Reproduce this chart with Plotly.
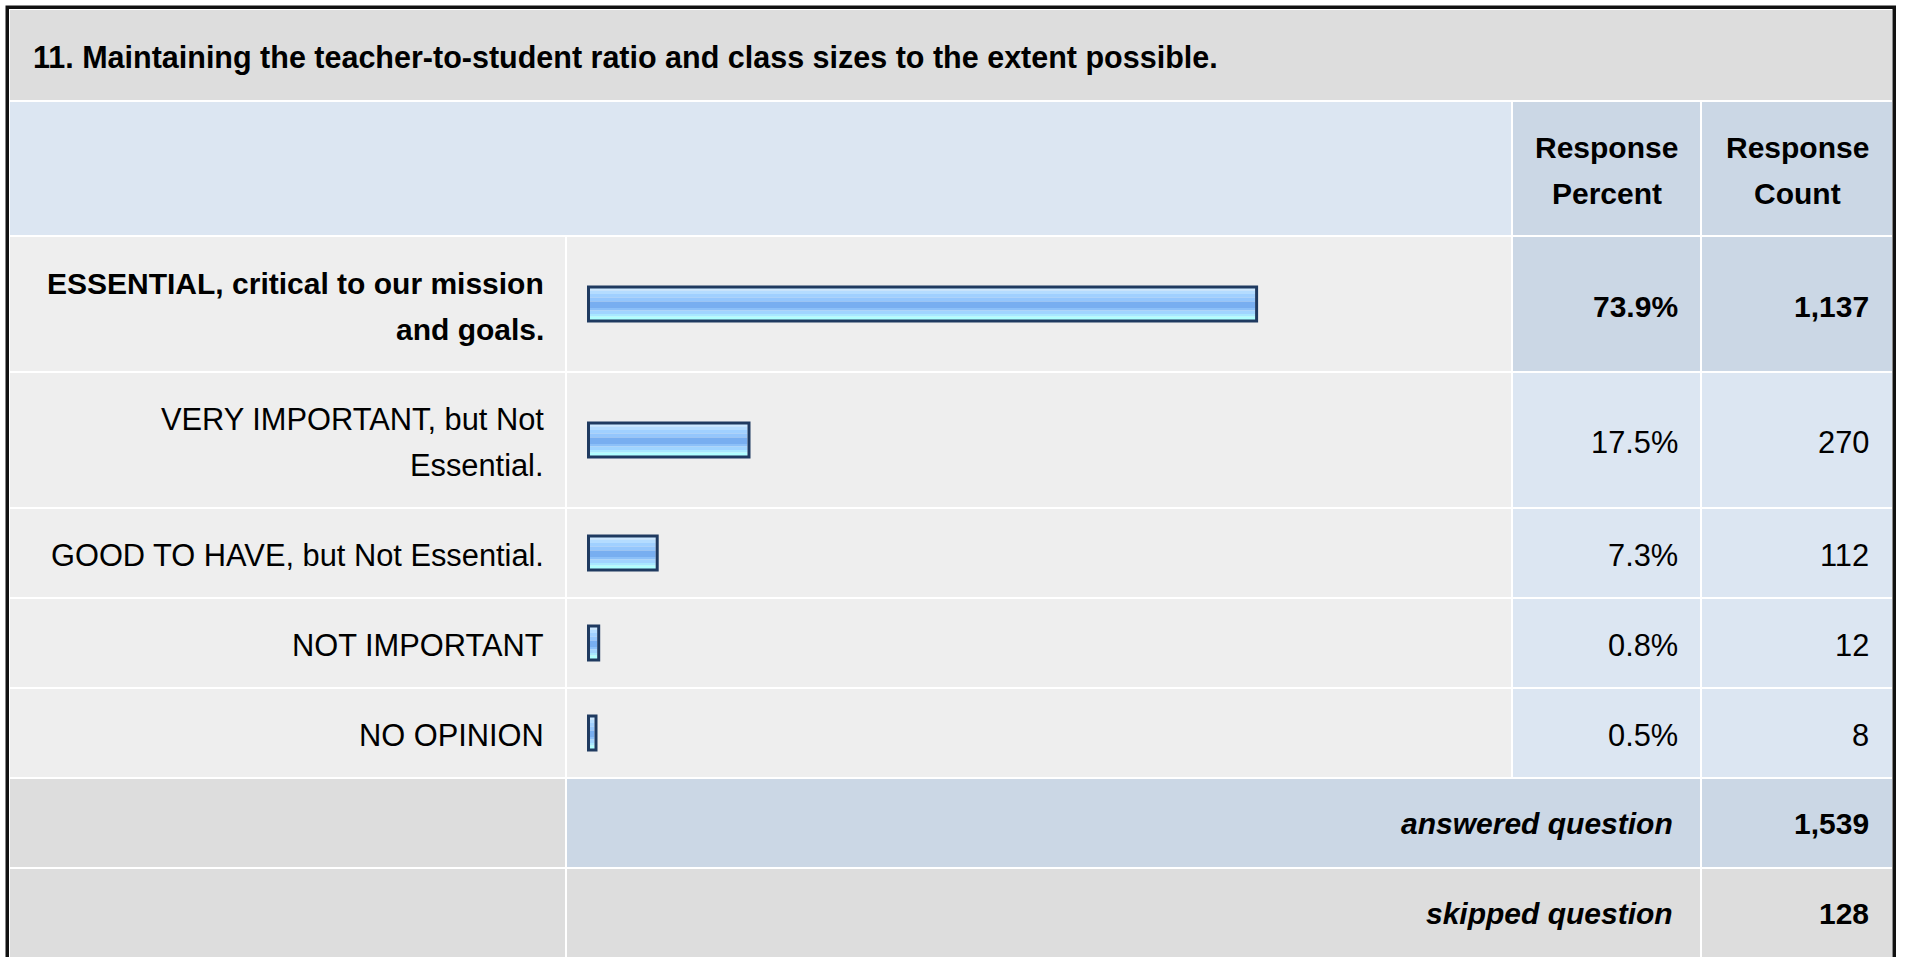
import plotly.graph_objects as go

# --- data -------------------------------------------------------------------
title = "11. Maintaining the teacher-to-student ratio and class sizes to the extent possible."
headers = ["Response<br>Percent", "Response<br>Count"]
choices = [
    "ESSENTIAL, critical to our mission<br>and goals.",
    "VERY IMPORTANT, but Not<br>Essential.",
    "GOOD TO HAVE, but Not Essential.",
    "NOT IMPORTANT",
    "NO OPINION",
]
percents = [73.9, 17.5, 7.3, 0.8, 0.5]
counts = [1137, 270, 112, 12, 8]
summary_labels = ["answered question", "skipped question"]
summary_counts = [1539, 128]

# --- layout constants -------------------------------------------------------
W, H = 1907, 957
FONT = "Liberation Sans, Arial, Helvetica, sans-serif"
FS_BOLD = 30
FS_REG = 30.8
FS_TITLE = 30.5
LINE = 46
TEXT_DY = 2          # caps sit a little below the cell middle

GREY = "#dddddd"
LIGHT = "#eeeeee"
BLUE = "#dce6f2"
BLUE_DARK = "#cbd7e5"
NAVY = "#1f3a60"

COLS = [9, 566, 1512, 1701, 1893]          # cell edges, left to right
TITLE_H, HEADER_H = 92, 135
ROW_H = {1: 90, 2: 136}

PX = 9.0             # pixels per percent point
BAR_X0 = 590         # where 0% sits
BORDER = 3
STRIPE_COLORS = ["#cce8ff", "#b4dcff", "#a0d0ff", "#94c6fc", "#78aef0",
                 "#8cc0f8", "#a0d4ff", "#a8e8ff", "#b0ffff"]
STRIPE_H = [2.5, 3.5, 3.5, 4, 6.5, 2.5, 3.5, 2.5, 3.5]

# row edges
edges = [9, 9 + TITLE_H, 9 + TITLE_H + HEADER_H]
for c in choices:
    edges.append(edges[-1] + ROW_H[c.count("<br>") + 1])
for _ in summary_labels:
    edges.append(edges[-1] + ROW_H[1])

shapes = []
annotations = []


def cell(x0, x1, y0, y1, color):
    shapes.append(dict(type="rect", xref="x", yref="y", x0=x0 + 1, x1=x1 - 1,
                       y0=y0 + 1, y1=y1 - 1, fillcolor=color, line_width=0,
                       layer="below"))


def text(x, yc, s, anchor, bold=False, italic=False, size=None):
    if size is None:
        size = FS_BOLD if bold else FS_REG
    lines = s.split("<br>")
    for i, ln in enumerate(lines):
        if bold:
            ln = "<b>" + ln + "</b>"
        if italic:
            ln = "<i>" + ln + "</i>"
        annotations.append(dict(
            x=x, y=yc + TEXT_DY + (i - (len(lines) - 1) / 2) * LINE,
            xref="x", yref="y", text=ln, showarrow=False,
            xanchor=anchor, yanchor="middle",
            font=dict(family=FONT, size=size, color="#000000")))


# title band
cell(COLS[0], COLS[4], edges[0], edges[1], GREY)
text(30.5, (edges[0] + edges[1]) / 2, title, "left", bold=True, size=FS_TITLE)

# header
y0, y1 = edges[1], edges[2]
cell(COLS[0], COLS[2], y0, y1, BLUE)
for k, h in enumerate(headers):
    cell(COLS[2 + k], COLS[3 + k], y0, y1, BLUE_DARK)
    text((COLS[2 + k] + COLS[3 + k]) / 2, (y0 + y1) / 2, h, "center", bold=True)

# answer rows
top = max(percents)
centers = []
for i, (c, p, n) in enumerate(zip(choices, percents, counts)):
    y0, y1 = edges[2 + i], edges[3 + i]
    yc = (y0 + y1) / 2
    centers.append(yc)
    hi = p == top
    cell(COLS[0], COLS[1], y0, y1, LIGHT)
    cell(COLS[1], COLS[2], y0, y1, LIGHT)
    cell(COLS[2], COLS[3], y0, y1, BLUE_DARK if hi else BLUE)
    cell(COLS[3], COLS[4], y0, y1, BLUE_DARK if hi else BLUE)
    text(COLS[1] - 20, yc, c, "right", bold=hi)
    text(COLS[3] - 21, yc, f"{p:.1f}%", "right", bold=hi)
    text(COLS[4] - 22, yc, f"{n:,}", "right", bold=hi)

# answered / skipped
for j, (lab, n) in enumerate(zip(summary_labels, summary_counts)):
    r = 2 + len(choices) + j
    y0, y1 = edges[r], edges[r + 1]
    yc = (y0 + y1) / 2
    mid = BLUE_DARK if j == 0 else GREY
    cell(COLS[0], COLS[1], y0, y1, GREY)
    cell(COLS[1], COLS[3], y0, y1, mid)
    cell(COLS[3], COLS[4], y0, y1, mid)
    text(COLS[3] - 26, yc - 1.5, lab, "right", bold=True, italic=True)
    text(COLS[4] - 22, yc - 1.5, f"{n:,}", "right", bold=True)

# outer border (open at the bottom of the page)
shapes.append(dict(type="rect", xref="x", yref="y", x0=7.25, x1=W - 12.75,
                   y0=7.25, y1=H + 20, line=dict(color="#111111", width=3.5),
                   fillcolor="rgba(0,0,0,0)", layer="above"))

fig = go.Figure()

# gradient bars, built from horizontal stripes
off = -sum(STRIPE_H) / 2
for color, h in zip(STRIPE_COLORS, STRIPE_H):
    fig.add_trace(go.Bar(
        x=percents, y=centers, orientation="h", base=0,
        width=h, offset=off, marker=dict(color=color, line_width=0),
        xaxis="x2", yaxis="y", hoverinfo="skip", showlegend=False))
    off += h

# outline sitting just outside each bar
fig.add_trace(go.Bar(
    x=[p + BORDER / PX for p in percents], y=centers, orientation="h",
    base=-BORDER / 2 / PX, width=sum(STRIPE_H) + 2,
    marker=dict(color="rgba(0,0,0,0)", line=dict(color=NAVY, width=BORDER)),
    xaxis="x2", yaxis="y", hoverinfo="skip", showlegend=False))

fig.update_layout(
    width=W, height=H,
    margin=dict(l=0, r=0, t=0, b=0),
    paper_bgcolor="#ffffff",
    plot_bgcolor="rgba(0,0,0,0)",
    barmode="overlay",
    showlegend=False,
    xaxis=dict(range=[0, W], domain=[0, 1], visible=False, fixedrange=True),
    yaxis=dict(range=[H, 0], domain=[0, 1], visible=False, fixedrange=True),
    xaxis2=dict(range=[-1, 100], domain=[(BAR_X0 - PX) / W, (BAR_X0 + 100 * PX) / W],
                anchor="y", visible=False, fixedrange=True),
    shapes=shapes,
    annotations=annotations,
)

fig.write_html("out.html", config={"displayModeBar": False},
               post_script="document.body.style.margin='0';document.body.style.overflow='hidden';")
